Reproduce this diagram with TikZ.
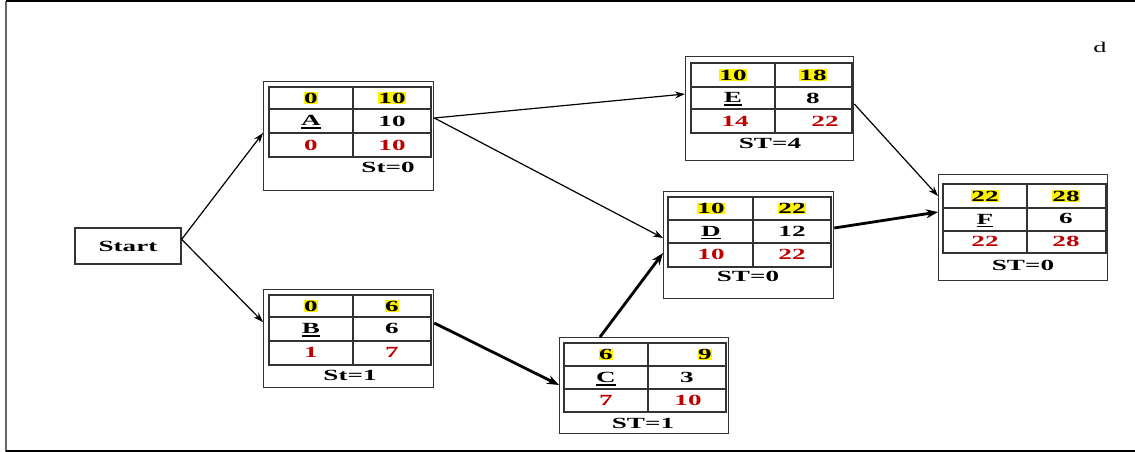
\documentclass[tikz,border=0pt]{standalone}
\usepackage{fontspec}
\setmainfont[FakeStretch=1.75]{Liberation Serif}
\usetikzlibrary{arrows.meta,calc}
\definecolor{myred}{RGB}{192,0,0}
\newcommand\ulet[1]{\setbox0\hbox{#1}\rlap{\raisebox{-3pt}{\rule{\wd0}{1.3pt}}}\box0}
\begin{document}
\begin{tikzpicture}[x=1pt,y=-1pt,
 obox/.style={draw=black!80, line width=1.3pt, fill=white, inner sep=0pt, anchor=north west},
 cell/.style={font=\fontsize{15.5}{15.5}\selectfont\bfseries, inner sep=0.6pt},
 hl/.style={cell, fill=yellow},
 late/.style={cell, text=myred},
 tline/.style={line width=1.2pt, draw=black!80},
 thinarr/.style={-{Stealth[length=10pt,width=7pt]}, line width=1.2pt},
 thickarr/.style={-{Stealth[length=12pt,width=9pt]}, line width=2.8pt}]
\useasboundingbox (0,0) rectangle (1135,452);
% frame
\draw[line width=1.8pt, black!60] (6,452) -- (6,1);
\draw[line width=1.6pt] (6,1) -- (1135,1);
\draw[line width=1.6pt] (6,451) -- (1135,451);
\node[font=\fontsize{15}{15}\selectfont] (dlabel) at (1100,47) {d};

% Start
\node[draw=black!80, line width=1.3pt, minimum width=106pt, minimum height=36pt, inner sep=0pt,
      font=\fontsize{15.5}{15.5}\selectfont\bfseries] (Start) at (128,246) {Start};

% ---- A ----
\node[obox, minimum width=170pt, minimum height=109pt] (A) at (263,81) {};
\draw[tline] (269,87) rectangle (431,157) (353,87) -- (353,157) (269,109) -- (431,109) (269,133) -- (431,133);
\node[hl] (A-es) at (311,98) {0};
\node[hl] (A-ef) at (392,98) {10};
\node[cell] (A-n) at (311,122) {\ulet{A}};
\node[cell] (A-d) at (392,121) {10};
\node[late] (A-ls) at (311,145) {0};
\node[late] (A-lf) at (392,145) {10};
\node[cell] (A-st) at (388,167) {St=0};

% ---- E ----
\node[obox, minimum width=168pt, minimum height=104pt] (E) at (685,56) {};
\draw[tline] (691,63) rectangle (852,133) (775,63) -- (775,133) (691,87) -- (852,87) (691,109) -- (852,109);
\node[hl] (E-es) at (733,75) {10};
\node[hl] (E-ef) at (813,75) {18};
\node[cell] (E-n) at (733,99) {\ulet{E}};
\node[cell] (E-d) at (813,98) {8};
\node[late] (E-ls) at (735,121) {14};
\node[late] (E-lf) at (825,121) {22};
\node[cell] (E-st) at (770,143) {ST=4};

% ---- D ----
\node[obox, minimum width=170pt, minimum height=107pt] (D) at (663,191) {};
\draw[tline] (668,197) rectangle (831,267) (753,197) -- (753,267) (668,220) -- (831,220) (668,243) -- (831,243);
\node[hl] (D-es) at (711,208.5) {10};
\node[hl] (D-ef) at (792,208.5) {22};
\node[cell] (D-n) at (711,232.5) {\ulet{D}};
\node[cell] (D-d) at (792,231.5) {12};
\node[late] (D-ls) at (711,254) {10};
\node[late] (D-lf) at (792,254) {22};
\node[cell] (D-st) at (748,276) {ST=0};

% ---- F ----
\node[obox, minimum width=169pt, minimum height=106pt] (F) at (938,174) {};
\draw[tline] (943,184) rectangle (1106,253) (1027,184) -- (1027,253) (943,208) -- (1106,208) (943,231) -- (1106,231);
\node[hl] (F-es) at (985,196) {22};
\node[hl] (F-ef) at (1066,196) {28};
\node[cell] (F-n) at (985,220.5) {\ulet{F}};
\node[cell] (F-d) at (1066,218) {6};
\node[late] (F-ls) at (985,241) {22};
\node[late] (F-lf) at (1066,241) {28};
\node[cell] (F-st) at (1023,265) {ST=0};

% ---- B ----
\node[obox, minimum width=170pt, minimum height=98pt] (B) at (263,289) {};
\draw[tline] (269,295) rectangle (431,365) (353,295) -- (353,365) (269,317) -- (431,317) (269,341) -- (431,341);
\node[hl] (B-es) at (311,306) {0};
\node[hl] (B-ef) at (392,306) {6};
\node[cell] (B-n) at (311,330) {\ulet{B}};
\node[cell] (B-d) at (392,328) {6};
\node[late] (B-ls) at (311,352) {1};
\node[late] (B-lf) at (392,352) {7};
\node[cell] (B-st) at (350,375) {St=1};

% ---- C ----
\node[obox, minimum width=169pt, minimum height=96pt] (C) at (559,337) {};
\draw[tline] (564,343) rectangle (726,412) (648,343) -- (648,412) (564,366) -- (726,366) (564,389) -- (726,389);
\node[hl] (C-es) at (606,354.5) {6};
\node[hl] (C-ef) at (705,354.5) {9};
\node[cell] (C-n) at (606,379) {\ulet{C}};
\node[cell] (C-d) at (687,377) {3};
\node[late] (C-ls) at (606,400) {7};
\node[late] (C-lf) at (688,400) {10};
\node[cell] (C-st) at (643,423) {ST=1};

% ---- connectors ----
\draw[thinarr] ($(Start.north east)+(0,12)$) -- ($(A.north west)+(0,52)$);
\draw[thinarr] ($(Start.north east)+(0,12)$) -- ($(B.north west)+(0,33)$);
\draw[thinarr] ($(A.north east)+(0,37)$) -- ($(E.north west)+(0,38)$);
\draw[thinarr] ($(A.north east)+(0,37)$) -- ($(D.north west)+(0,47)$);
\draw[thinarr] ($(E.north east)+(0,48)$) -- ($(F.north west)+(0,22)$);
\draw[thickarr] ($(B.north east)+(0,34)$) -- ($(C.north west)+(0,48)$);
\draw[thickarr] ($(C.north west)+(41,0)$) -- ($(D.north west)+(0,62)$);
\draw[thickarr] ($(D.north east)+(0,37)$) -- ($(F.north west)+(0,38)$);
\end{tikzpicture}
\end{document}
